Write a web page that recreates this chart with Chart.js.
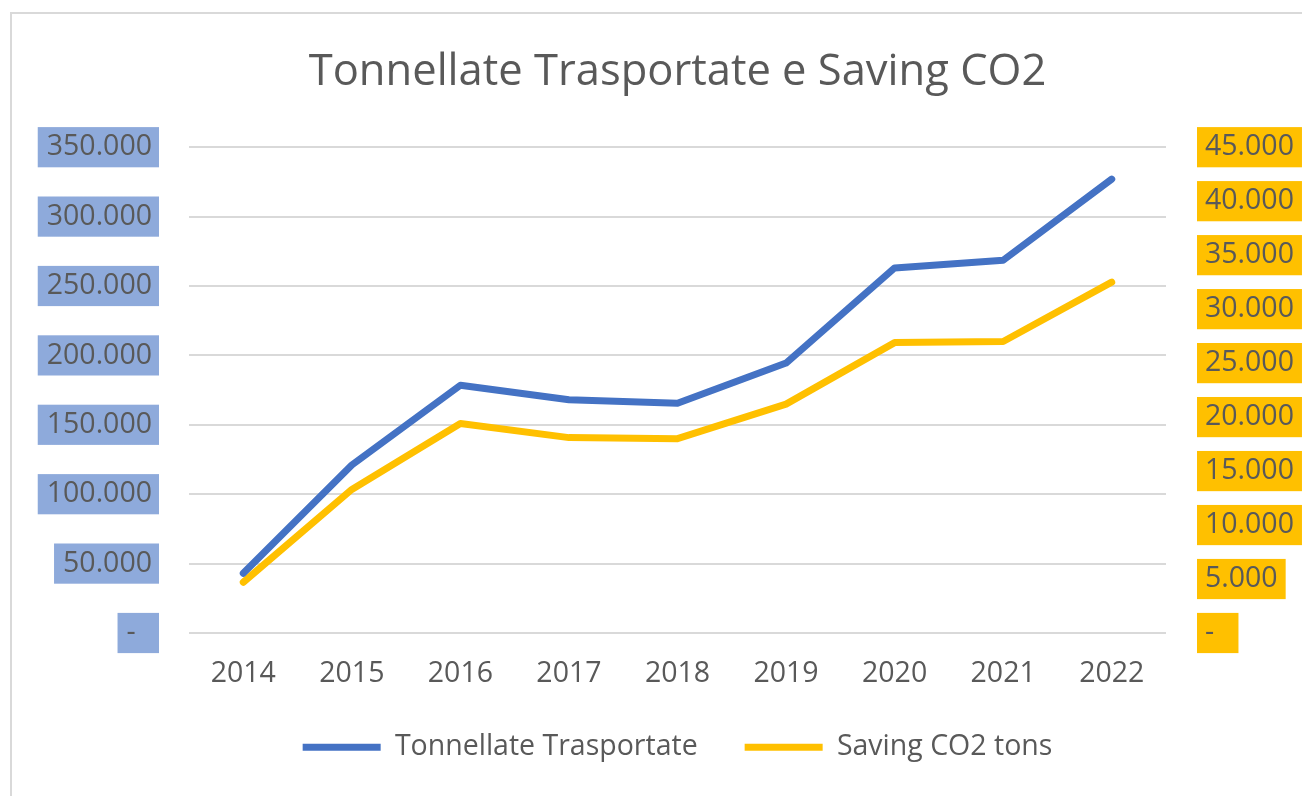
<!DOCTYPE html>
<html>
<head>
<meta charset="utf-8">
<script src="https://cdn.jsdelivr.net/npm/chart.js@4"></script>
<style>
  html, body { margin: 0; padding: 0; background: #ffffff; overflow: hidden; }
  #frame { position: absolute; left: 10px; top: 12px; width: 1400px; height: 900px;
           border-left: 2px solid #d9d9d9; border-top: 2px solid #d9d9d9; box-sizing: border-box; }
  #c { position: absolute; left: 0; top: 0; }
</style>
</head>
<body>
<div id="frame"></div>
<canvas id="c" width="1302" height="796"></canvas>
<script>
const years = ['2014', '2015', '2016', '2017', '2018', '2019', '2020', '2021', '2022'];
const tonnellate = [43000, 121000, 178500, 168000, 165500, 194500, 263000, 268500, 327000];
const savingCO2 = [4700, 13300, 19400, 18100, 18000, 21200, 26900, 27000, 32500];
const leftTickLabels = ['-\u2007', '50.000', '100.000', '150.000', '200.000', '250.000', '300.000', '350.000'];
const rightTickLabels = ['-\u2007', '5.000', '10.000', '15.000', '20.000', '25.000', '30.000', '35.000', '40.000', '45.000'];

const FONT = 'Open Sans';
const TXT = '#595959';

function leftBackdrop(c) {
  const s = c.scale;
  const y = s && typeof c.index === 'number' ? s.getPixelForTick(c.index) : NaN;
  if (!isFinite(y)) return '#a0b6e2';
  const g = c.chart.ctx.createLinearGradient(0, y - 20, 0, y + 20);
  g.addColorStop(0, '#8eaadb');
  g.addColorStop(1, '#b4c7e7');
  return g;
}

new Chart(document.getElementById('c'), {
  type: 'line',
  data: {
    labels: years,
    datasets: [
      {
        label: 'Tonnellate Trasportate',
        data: tonnellate,
        yAxisID: 'y',
        borderColor: '#4472c4',
        backgroundColor: '#4472c4',
        borderWidth: 7,
        borderCapStyle: 'round',
        borderJoinStyle: 'round',
        pointRadius: 0,
        tension: 0,
        fill: false
      },
      {
        label: 'Saving CO2 tons',
        data: savingCO2,
        yAxisID: 'y1',
        borderColor: '#ffc000',
        backgroundColor: '#ffc000',
        borderWidth: 7,
        borderCapStyle: 'round',
        borderJoinStyle: 'round',
        pointRadius: 0,
        tension: 0,
        fill: false
      }
    ]
  },
  options: {
    responsive: false,
    animation: false,
    devicePixelRatio: 1,
    layout: { padding: { left: 0, right: 0, top: 0, bottom: 24.5 } },
    plugins: {
      title: {
        display: true,
        text: 'Tonnellate Trasportate e Saving CO2',
        color: TXT,
        fullSize: false,
        font: { family: FONT, size: 43.5, weight: 'normal' },
        padding: { top: 47, bottom: 48 }
      },
      legend: {
        display: true,
        position: 'bottom',
        fullSize: false,
        labels: {
          usePointStyle: true,
          pointStyle: 'line',
          pointStyleWidth: 78,
          padding: 47,
          color: TXT,
          font: { family: FONT, size: 28.5 }
        }
      },
      tooltip: { enabled: false }
    },
    scales: {
      x: {
        type: 'category',
        offset: true,
        grid: { display: false, drawTicks: false },
        border: { display: false },
        ticks: { color: TXT, font: { family: FONT, size: 28.5 }, padding: 24, maxRotation: 0, autoSkip: false },
        afterFit: (s) => { s.height = 53; }
      },
      y: {
        position: 'left',
        min: 0,
        max: 350000,
        grid: { color: '#d9d9d9', lineWidth: 2, drawTicks: false },
        border: { display: false },
        ticks: {
          stepSize: 50000,
          color: TXT,
          font: { family: FONT, size: 28.5 },
          padding: 37,
          callback: (v, i) => leftTickLabels[i],
          showLabelBackdrop: true,
          backdropColor: leftBackdrop,
          backdropPadding: { top: 3, bottom: 3, left: 9, right: 7 }
        },
        afterFit: (s) => { s.width = 189; }
      },
      y1: {
        position: 'right',
        min: 0,
        max: 45000,
        grid: { display: false, drawTicks: false },
        border: { display: false },
        ticks: {
          stepSize: 5000,
          color: TXT,
          font: { family: FONT, size: 28.5 },
          padding: 39,
          callback: (v, i) => rightTickLabels[i],
          showLabelBackdrop: true,
          backdropColor: '#ffc000',
          backdropPadding: { top: 3, bottom: 3, left: 8, right: 8 }
        },
        afterFit: (s) => { s.width = 136; }
      }
    }
  }
});
</script>
</body>
</html>
